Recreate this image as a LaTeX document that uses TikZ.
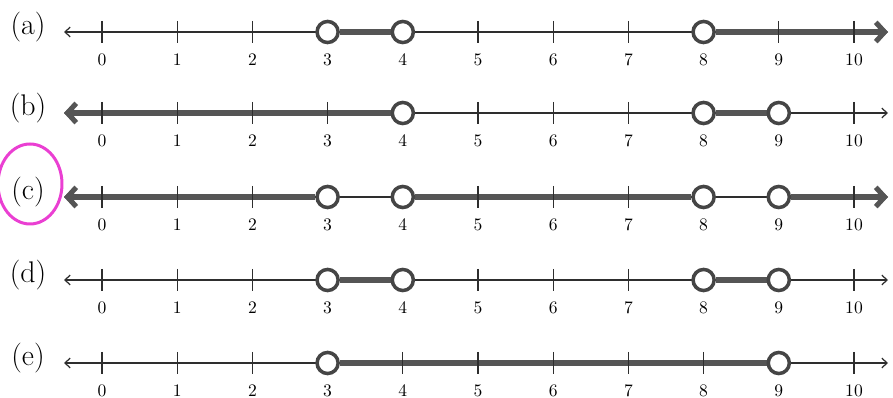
\documentclass[tikz,border=0pt]{standalone}
\usepackage{xcolor}
\usepackage{tikz}
\usetikzlibrary{arrows.meta}
\definecolor{nlAxis}{HTML}{2e2e2e}
\definecolor{nlRay}{HTML}{555555}
\definecolor{nlHole}{HTML}{454545}
\definecolor{nlPink}{HTML}{ea3fd2}
\pgfdeclarelayer{axislayer}
\pgfdeclarelayer{ticklayer}
\pgfdeclarelayer{frontlayer}
\pgfsetlayers{axislayer,main,ticklayer,frontlayer}

% one number line: name, y (px), ticks 0..10
\newcommand{\numline}[2]{%
  \node[lbl] (#1-lbl) at (28,#2-5) {(#1)};
  \coordinate (#1-L) at (64,#2);
  \coordinate (#1-R) at (888,#2);
  \begin{pgfonlayer}{axislayer}
    \draw[axis] (#1-L) -- (#1-R);
  \end{pgfonlayer}
  \foreach \k in {0,...,10}{
    \coordinate (#1-\k) at ({102+75.2*\k},#2);
    \begin{pgfonlayer}{ticklayer}
      \draw[tick] ({102+75.2*\k},#2-11) -- ({102+75.2*\k},#2+11);
    \end{pgfonlayer}
    \node[num] (#1-n\k) at ({102+75.2*\k},#2+28) {\k};
  }%
}
% open circle at a point of a line
\newcommand{\hole}[2]{%
  \begin{pgfonlayer}{frontlayer}
    \node[holept] (#1-o#2) at (#1-#2) {};
  \end{pgfonlayer}%
}

\begin{document}
\begin{tikzpicture}[
  x=0.02cm, y=-0.02cm,
  lbl/.style={font=\fontsize{17}{20}\selectfont, inner sep=0pt},
  num/.style={font=\normalsize, inner sep=0pt},
  axis/.style={nlAxis, line width=0.7pt, {Straight Barb[length=3pt,width=5.5pt]}-{Straight Barb[length=3pt,width=5.5pt]}},
  tick/.style={nlAxis, line width=0.7pt},
  ray/.style={nlRay, line width=2.9pt},
  rayend/.style={ray, -{Straight Barb[length=5pt,width=11pt]}},
  holept/.style={circle, draw=nlHole, line width=2pt, fill=white, minimum size=12pt, inner sep=0pt},
]
\useasboundingbox (0,0) rectangle (893,398);

% (a)
\numline{a}{32}
\hole{a}{3} \hole{a}{4} \hole{a}{8}
\draw[ray] (a-o3) -- (a-o4);
\draw[rayend] (a-o8) -- (a-R);

% (b)
\numline{b}{113}
\hole{b}{4} \hole{b}{8} \hole{b}{9}
\draw[rayend] (b-o4) -- (b-L);
\draw[ray] (b-o8) -- (b-o9);

% (c)
\numline{c}{197}
\hole{c}{3} \hole{c}{4} \hole{c}{8} \hole{c}{9}
\draw[rayend] (c-o3) -- (c-L);
\draw[ray] (c-o4) -- (c-o8);
\draw[rayend] (c-o9) -- (c-R);
\draw[nlPink, line width=1.7pt] (c-lbl) ++(2,-8) ellipse [x radius=32, y radius=40];

% (d)
\numline{d}{280}
\hole{d}{3} \hole{d}{4} \hole{d}{8} \hole{d}{9}
\draw[ray] (d-o3) -- (d-o4);
\draw[ray] (d-o8) -- (d-o9);

% (e)
\numline{e}{363}
\hole{e}{3} \hole{e}{9}
\draw[ray] (e-o3) -- (e-o9);
\end{tikzpicture}
\end{document}
